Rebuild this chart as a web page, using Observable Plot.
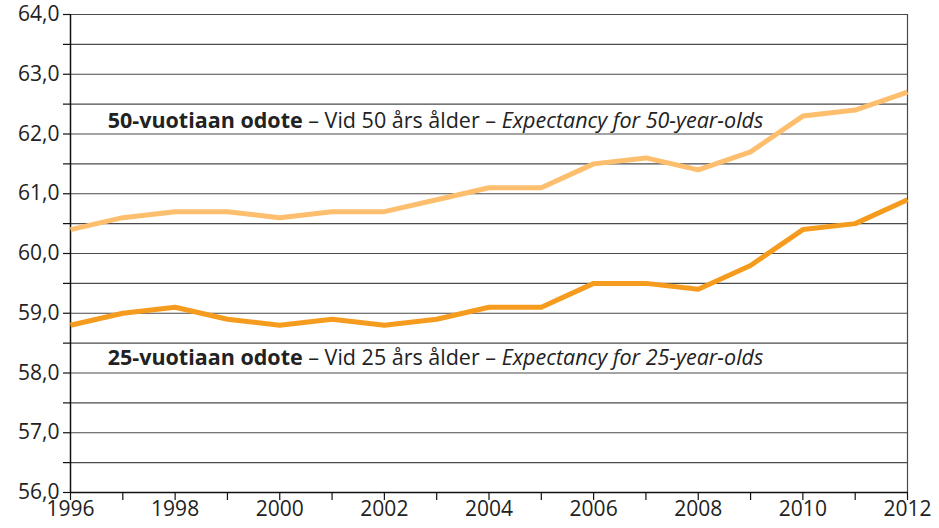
<!DOCTYPE html>
<html><head><meta charset="utf-8">
<script src="https://cdn.jsdelivr.net/npm/d3@7"></script>
<script src="https://cdn.jsdelivr.net/npm/@observablehq/plot@0.6"></script>
<style>body{margin:0;background:#fff}</style>
</head><body><div id="chart"></div>
<script>
const years = [1996,1997,1998,1999,2000,2001,2002,2003,2004,2005,2006,2007,2008,2009,2010,2011,2012];
const age50 = [60.4,60.6,60.7,60.7,60.6,60.7,60.7,60.9,61.1,61.1,61.5,61.6,61.4,61.7,62.3,62.4,62.7];
const age25 = [58.8,59.0,59.1,58.9,58.8,58.9,58.8,58.9,59.1,59.1,59.5,59.5,59.4,59.8,60.4,60.5,60.9];
const yTicks = [56,56.5,57,57.5,58,58.5,59,59.5,60,60.5,61,61.5,62,62.5,63,63.5,64];
const xTickLabels = [1996,1998,2000,2002,2004,2006,2008,2010,2012];
const label50 = [["50-vuotiaan odote","bold",null],[" – Vid 50 års ålder – ",null,null],["Expectancy for 50-year-olds",null,"italic"]];
const label25 = [["25-vuotiaan odote","bold",null],[" – Vid 25 års ålder – ",null,null],["Expectancy for 25-year-olds",null,"italic"]];
const colors = {age50:"#fdbe6e", age25:"#f59c1e"};

const rows50 = years.map((y,i)=>({year:y, value:age50[i]}));
const rows25 = years.map((y,i)=>({year:y, value:age25[i]}));

function richLabel(parts, xv, yv) {
  return (index, scales) => {
    const t = d3.create("svg:text")
      .attr("x", scales.x(xv)).attr("y", scales.y(yv)).attr("dy","0.35em")
      .attr("text-anchor","start")
      .attr("font-size", 21.5).attr("fill","#222").attr("font-family","'Open Sans', sans-serif");
    parts.forEach(([txt,w,s]) => t.append("tspan").attr("font-weight", w).attr("font-style", s).text(txt));
    return t.node();
  };
}

const chart = Plot.plot({
  width: 939, height: 528,
  marginLeft: 70, marginRight: 32, marginTop: 14, marginBottom: 36,
  x: {domain: [1996, 2012]},
  y: {domain: [56, 64]},
  style: {fontFamily: "'Open Sans', sans-serif", fontSize: "21px", color: "#222", background: "#fff"},
  marks: [
    Plot.ruleY(yTicks.filter(d => d > 56), {stroke: "#4a4a4a", strokeWidth: 1.2, strokeOpacity: 1}),
    Plot.ruleX([2012], {stroke: "#4a4a4a", strokeWidth: 1.2}),
    Plot.axisY({ticks: yTicks, tickFormat: d => Number.isInteger(d) ? d.toFixed(1).replace(".", ",") : "", tickSize: 7, tickPadding: 4, label: null, stroke: "#111", strokeWidth: 1.2, fontSize: 21, fill: "#222"}),
    Plot.axisX({ticks: years, tickFormat: d => xTickLabels.includes(d) ? String(d) : "", tickSize: 8, tickPadding: 1, label: null, stroke: "#111", strokeWidth: 1.2, fontSize: 21, fill: "#222"}),
    Plot.ruleY([56], {stroke: "#111", strokeWidth: 1.5}),
    Plot.ruleX([1996], {stroke: "#111", strokeWidth: 1.5}),
    Plot.line(rows50, {x: "year", y: "value", stroke: colors.age50, strokeWidth: 5, strokeLinecap: "butt"}),
    Plot.line(rows25, {x: "year", y: "value", stroke: colors.age25, strokeWidth: 5, strokeLinecap: "butt"}),
    richLabel(label50, 1996.72, 62.22),
    richLabel(label25, 1996.72, 58.25)
  ]
});
document.getElementById("chart").append(chart);
</script>
</body></html>
